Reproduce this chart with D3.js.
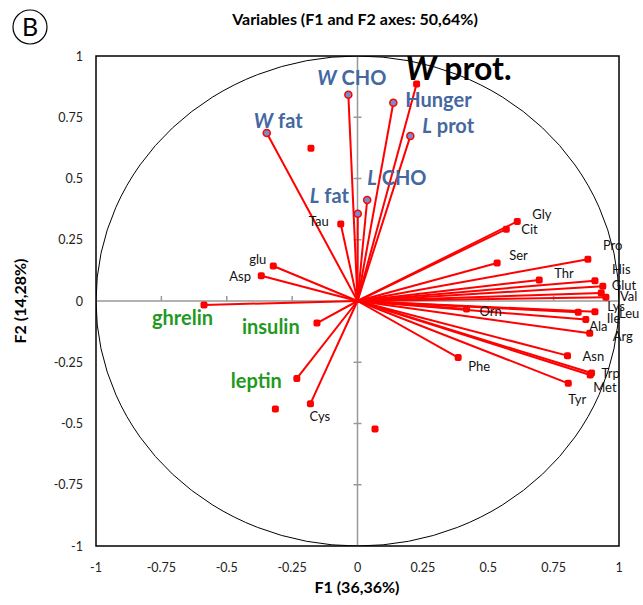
<!DOCTYPE html>
<html>
<head>
<meta charset="utf-8">
<script src="https://cdn.jsdelivr.net/npm/d3@7/dist/d3.min.js"></script>
<style>
  body { margin: 0; background: #fff; }
  svg { display: block; font-family: Lato, "Noto Sans", sans-serif; }
</style>
</head>
<body>
<svg id="chart" width="643" height="605"></svg>
<script>
// Correlation circle: variable loadings on F1 and F2
const aminoNames = ["Gly","Cit","Ser","Pro","Thr","His","Glut","Val","Lys","Leu","Ile","Ala","Arg","Asn","Trp","Met","Tyr","Phe","Orn","Tau","glu","Asp","Cys"];
const aminoF1 = [0.611,0.569,0.534,0.881,0.695,0.908,0.938,0.950,0.932,0.908,0.873,0.844,0.888,0.803,0.895,0.890,0.806,0.385,0.417,-0.064,-0.322,-0.368,-0.180];
const aminoF2 = [0.325,0.293,0.155,0.170,0.086,0.083,0.060,0.015,0.033,-0.044,-0.076,-0.046,-0.132,-0.223,-0.294,-0.302,-0.336,-0.231,-0.033,0.314,0.143,0.103,-0.419];

const hormoneNames = ["ghrelin","insulin","leptin"];
const hormoneF1 = [-0.587,-0.155,-0.232];
const hormoneF2 = [-0.016,-0.090,-0.316];

// intake / appetite variables: italic prefix + rest of the name
const intakePrefix = ["W","","L","W","L","L"];
const intakeNames = [" CHO","Hunger"," prot"," fat"," CHO"," fat"];
const intakeF1 = [-0.035,0.137,0.202,-0.347,0.037,0.001];
const intakeF2 = [0.842,0.809,0.673,0.686,0.412,0.356];

const protF1 = [0.226];
const protF2 = [0.886];

// unlabeled points, no vectors
const extraF1 = [-0.178,-0.314,0.067];
const extraF2 = [0.623,-0.441,-0.522];

const tickValues = [-1,-0.75,-0.5,-0.25,0,0.25,0.5,0.75,1];

// label placement (pixel offsets from each point, text-anchor start)
const aminoOffsets = {
  Gly:[15,-2], Cit:[15,5], Ser:[12,-3], Pro:[15,-9], Thr:[15,-2], His:[17,-7],
  Glut:[9,4], Val:[14,4], Lys:[6,18], Leu:[24,6], Ile:[21,3], Ala:[11,19],
  Arg:[23,8], Asn:[15,5], Trp:[10,5], Met:[3,17], Tyr:[0,21], Phe:[10,13],
  Orn:[13,7], Tau:[-32,2], glu:[-24,-2], Asp:[-32,5], Cys:[-1,17]
};
const hormoneOffsets = { ghrelin:[-52,20], insulin:[-75,11], leptin:[-66,10] };
const intakeOffsets = [[-31,-10],[12,4],[12,-3],[-13,-5],[0,-15],[-48,-11]];

const svg = d3.select("#chart");
const x = d3.scaleLinear().domain([-1, 1]).range([96, 619]);
const y = d3.scaleLinear().domain([-1, 1]).range([546, 56]);

const RED = "#ff0000";
const BLUE = "#44689f";
const GREEN = "#1f9a1f";

// title and panel letter
svg.append("circle").attr("cx", 30).attr("cy", 27).attr("r", 17)
  .attr("fill", "none").attr("stroke", "#000").attr("stroke-width", 1.2);
svg.append("text").attr("x", 30).attr("y", 36).attr("text-anchor", "middle")
  .attr("font-size", 25).attr("fill", "#000").text("B");
svg.append("text").attr("x", 355).attr("y", 25).attr("text-anchor", "middle")
  .attr("font-size", 16).attr("font-weight", "bold").text("Variables (F1 and F2 axes: 50,64%)");

svg.append("clipPath").attr("id", "plotclip").append("rect")
  .attr("x", 96).attr("y", 56).attr("width", 523).attr("height", 490);

// unit circle
svg.append("ellipse")
  .attr("cx", x(0)).attr("cy", y(0))
  .attr("rx", x(1) - x(0)).attr("ry", y(0) - y(1))
  .attr("fill", "none").attr("stroke", "#000").attr("stroke-width", 1)
  .attr("clip-path", "url(#plotclip)");

// axes through the origin
const axisG = svg.append("g").attr("stroke", "#999").attr("stroke-width", 1.5);
axisG.append("line").attr("x1", x(-1)).attr("x2", x(1)).attr("y1", y(0)).attr("y2", y(0));
axisG.append("line").attr("x1", x(0)).attr("x2", x(0)).attr("y1", y(-1)).attr("y2", y(1));
tickValues.filter(t => t !== 0 && Math.abs(t) !== 1).forEach(t => {
  axisG.append("line").attr("x1", x(t)).attr("x2", x(t)).attr("y1", y(0) - 5).attr("y2", y(0));
  axisG.append("line").attr("x1", x(0) - 4).attr("x2", x(0) + 4).attr("y1", y(t)).attr("y2", y(t));
});

// frame
svg.append("rect").attr("x", 96).attr("y", 56).attr("width", 523).attr("height", 490)
  .attr("fill", "none").attr("stroke", "#000").attr("stroke-width", 1.5);

// tick labels
const fmt = d => String(d);
svg.append("g").selectAll("text").data(tickValues).join("text")
  .attr("x", d => x(d)).attr("y", 572).attr("text-anchor", "middle")
  .attr("font-size", 12.5).attr("fill", "#222").text(fmt);
svg.append("g").selectAll("text").data(tickValues).join("text")
  .attr("x", 83).attr("y", d => y(d) + 4.5).attr("text-anchor", "end")
  .attr("font-size", 12.5).attr("fill", "#222").text(fmt);

// axis titles
svg.append("text").attr("x", 357).attr("y", 593).attr("text-anchor", "middle")
  .attr("font-size", 16).attr("font-weight", "bold").text("F1 (36,36%)");
svg.append("text").attr("transform", `translate(${26},${y(0)}) rotate(-90)`)
  .attr("text-anchor", "middle").attr("font-size", 16).attr("font-weight", "bold")
  .text("F2 (14,28%)");

// vectors
const vectors = [];
aminoNames.forEach((n, i) => vectors.push([aminoF1[i], aminoF2[i]]));
hormoneNames.forEach((n, i) => vectors.push([hormoneF1[i], hormoneF2[i]]));
intakeNames.forEach((n, i) => vectors.push([intakeF1[i], intakeF2[i]]));
protF1.forEach((v, i) => vectors.push([protF1[i], protF2[i]]));

svg.append("g").selectAll("line").data(vectors).join("line")
  .attr("x1", x(0)).attr("y1", y(0))
  .attr("x2", d => x(d[0])).attr("y2", d => y(d[1]))
  .attr("stroke", RED).attr("stroke-width", 2);

// red square markers
const redPts = [];
aminoNames.forEach((n, i) => redPts.push([aminoF1[i], aminoF2[i]]));
hormoneNames.forEach((n, i) => redPts.push([hormoneF1[i], hormoneF2[i]]));
protF1.forEach((v, i) => redPts.push([protF1[i], protF2[i]]));
extraF1.forEach((v, i) => redPts.push([extraF1[i], extraF2[i]]));

svg.append("g").selectAll("rect").data(redPts).join("rect")
  .attr("x", d => x(d[0]) - 3.5).attr("y", d => y(d[1]) - 3.5)
  .attr("width", 7).attr("height", 7).attr("rx", 2)
  .attr("fill", RED);

// blue markers with red outline
svg.append("g").selectAll("circle").data(intakeF1.map((v, i) => [v, intakeF2[i]])).join("circle")
  .attr("cx", d => x(d[0])).attr("cy", d => y(d[1])).attr("r", 3.5)
  .attr("fill", "#6f8fcf").attr("stroke", RED).attr("stroke-width", 1.5);

// amino acid labels
svg.append("g").selectAll("text").data(aminoNames).join("text")
  .attr("x", (d, i) => x(aminoF1[i]) + aminoOffsets[d][0])
  .attr("y", (d, i) => y(aminoF2[i]) + aminoOffsets[d][1])
  .attr("font-size", 13).attr("fill", "#111").text(d => d);

// hormone labels
svg.append("g").selectAll("text").data(hormoneNames).join("text")
  .attr("x", (d, i) => x(hormoneF1[i]) + hormoneOffsets[d][0])
  .attr("y", (d, i) => y(hormoneF2[i]) + hormoneOffsets[d][1])
  .attr("font-size", 20).attr("font-weight", "bold").attr("fill", GREEN).text(d => d);

// intake labels
const intakeText = svg.append("g").selectAll("text").data(intakeNames).join("text")
  .attr("x", (d, i) => x(intakeF1[i]) + intakeOffsets[i][0])
  .attr("y", (d, i) => y(intakeF2[i]) + intakeOffsets[i][1])
  .attr("font-size", 20).attr("font-weight", "bold").attr("fill", BLUE);
intakeText.append("tspan").attr("font-style", "italic").text((d, i) => intakePrefix[i]);
intakeText.append("tspan").text(d => d);

// W prot. label
const wp = svg.append("text")
  .attr("x", x(protF1[0]) - 11).attr("y", y(protF2[0]) - 4)
  .attr("font-size", 32).attr("font-weight", "bold").attr("fill", "#000");
wp.append("tspan").attr("font-style", "italic").text("W");
wp.append("tspan").text(" prot.");
</script>
</body>
</html>
